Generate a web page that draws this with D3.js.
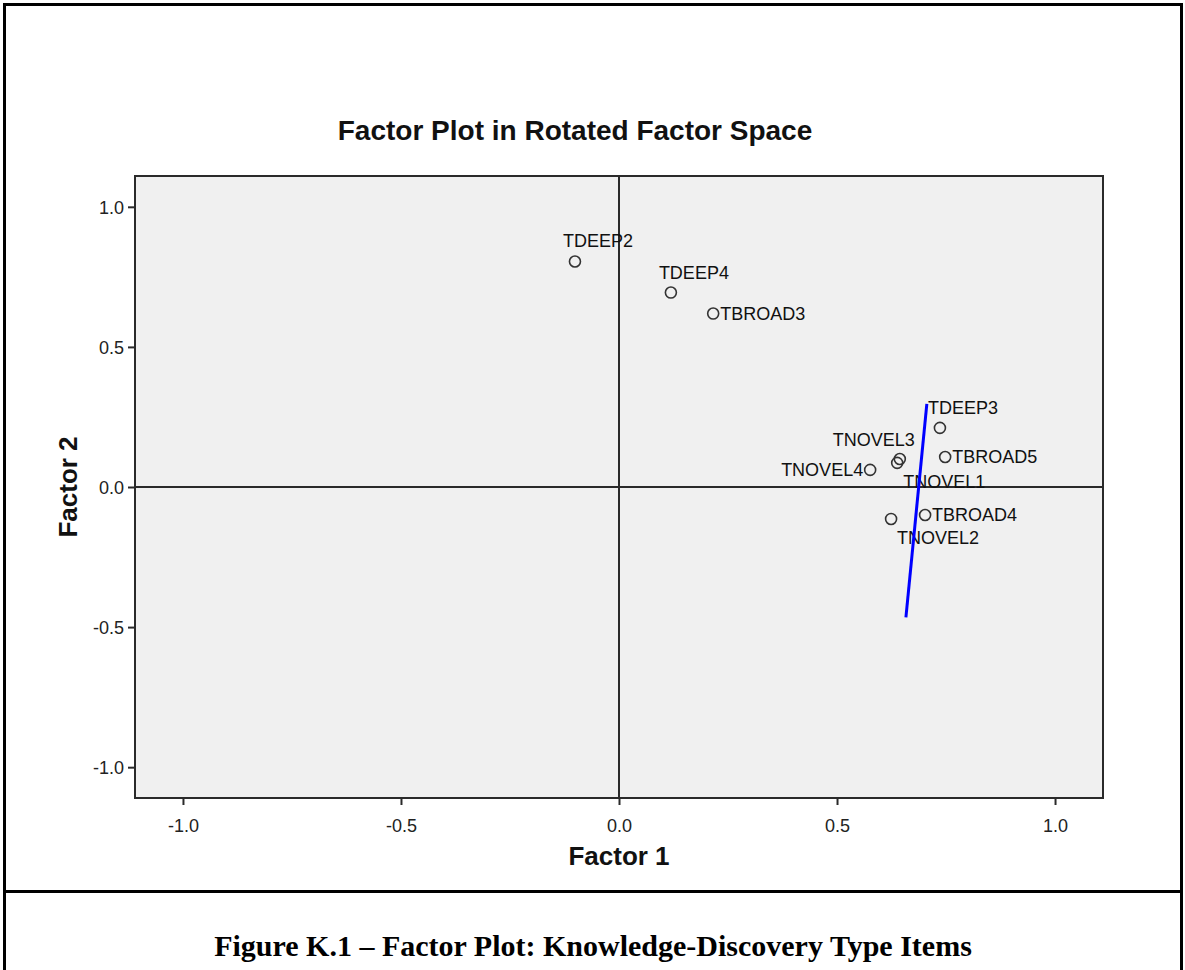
<!DOCTYPE html>
<html lang="en">
<head>
  <meta charset="UTF-8">
  <title>Factor Plot</title>
  <script src="https://d3js.org/d3.v7.min.js" charset="utf-8"></script>
  <style>
    body { margin: 0; background: #fff; }
  </style>
</head>
<body>
</body>
<script>
  // loadings
  var items = ['TDEEP2', 'TDEEP4', 'TBROAD3', 'TDEEP3', 'TBROAD5', 'TNOVEL3', 'TNOVEL1', 'TNOVEL4', 'TNOVEL2', 'TBROAD4']
  var factor1 = [-0.101, 0.119, 0.216, 0.736, 0.748, 0.644, 0.638, 0.576, 0.624, 0.702]
  var factor2 = [0.805, 0.694, 0.619, 0.211, 0.107, 0.100, 0.086, 0.061, -0.114, -0.100]
  // where each label sits against its point
  var labelSide = ['above', 'above', 'right', 'above', 'right', 'aboveLeft', 'below', 'left', 'below', 'right']
  var ticks = [-1.0, -0.5, 0.0, 0.5, 1.0]
  // hand drawn blue stroke
  var blueLine = [[0.706, 0.297], [0.658, -0.465]]

  var W = 1185, H = 970
  var svg = d3.select('body').append('svg').attr('width', W).attr('height', H)

  // frame of the figure
  svg.append('path')
    .attr('d', 'M4.5,' + (H + 5) + 'V4.5H1181.5V' + (H + 5))
    .attr('fill', 'none').attr('stroke', '#000').attr('stroke-width', 3)
  svg.append('line').attr('x1', 3).attr('x2', 1183).attr('y1', 891.5).attr('y2', 891.5)
    .attr('stroke', '#000').attr('stroke-width', 3)

  var x = d3.scaleLinear().domain([-1.11, 1.11]).range([135, 1103])
  var y = d3.scaleLinear().domain([-1.11, 1.11]).range([798, 176])
  var fmt = function(d) { return d.toFixed(1) }

  svg.append('rect')
    .attr('x', x(-1.11)).attr('y', y(1.11))
    .attr('width', x(1.11) - x(-1.11)).attr('height', y(-1.11) - y(1.11))
    .attr('fill', '#f0f0f0')

  // zero lines
  svg.append('line').attr('x1', x(0)).attr('x2', x(0)).attr('y1', y(1.11)).attr('y2', y(-1.11))
    .attr('stroke', '#2a2a2a').attr('stroke-width', 2)
  svg.append('line').attr('x1', x(-1.11)).attr('x2', x(1.11)).attr('y1', y(0)).attr('y2', y(0))
    .attr('stroke', '#2a2a2a').attr('stroke-width', 2)

  svg.append('rect')
    .attr('x', x(-1.11)).attr('y', y(1.11))
    .attr('width', x(1.11) - x(-1.11)).attr('height', y(-1.11) - y(1.11))
    .attr('fill', 'none').attr('stroke', '#2a2a2a').attr('stroke-width', 2)

  var xAxis = svg.append('g').attr('transform', 'translate(0,' + y(-1.11) + ')')
    .call(d3.axisBottom(x).tickValues(ticks).tickFormat(fmt).tickSize(7).tickPadding(14))
  var yAxis = svg.append('g').attr('transform', 'translate(' + x(-1.11) + ',0)')
    .call(d3.axisLeft(y).tickValues(ticks).tickFormat(fmt).tickSize(7).tickPadding(4))
  ;[xAxis, yAxis].forEach(function(g) {
    g.select('.domain').remove()
    g.selectAll('.tick line').attr('stroke', '#2a2a2a').attr('stroke-width', 2)
    g.selectAll('.tick text').attr('fill', '#222')
      .style('font-family', 'Arial, "Liberation Sans", sans-serif').style('font-size', '18px')
  })
  yAxis.selectAll('.tick text').attr('dy', '0.36em')

  // points
  var pts = items.map(function(name, i) {
    return { name: name, f1: factor1[i], f2: factor2[i], side: labelSide[i] }
  })
  svg.append('g').selectAll('circle').data(pts).enter().append('circle')
    .attr('cx', function(d) { return x(d.f1) })
    .attr('cy', function(d) { return y(d.f2) })
    .attr('r', 5.5)
    .attr('fill', 'none').attr('stroke', '#333').attr('stroke-width', 1.6)

  var off = {
    above: [-12, -14, 'start'],
    aboveLeft: [15, -13, 'end'],
    below: [6, 25, 'start'],
    left: [-7, 6, 'end'],
    right: [7, 6, 'start']
  }
  svg.append('g').selectAll('text').data(pts).enter().append('text')
    .attr('x', function(d) { return x(d.f1) + off[d.side][0] })
    .attr('y', function(d) { return y(d.f2) + off[d.side][1] })
    .attr('text-anchor', function(d) { return off[d.side][2] })
    .style('font-family', 'Arial, "Liberation Sans", sans-serif').style('font-size', '18px')
    .attr('fill', '#111')
    .text(function(d) { return d.name })

  svg.append('path')
    .attr('d', d3.line().x(function(d) { return x(d[0]) }).y(function(d) { return y(d[1]) })(blueLine))
    .attr('stroke', '#0000ff').attr('stroke-width', 3).attr('fill', 'none')

  // titles
  svg.append('text').attr('x', 575).attr('y', 140).attr('text-anchor', 'middle')
    .style('font-family', 'Arial, "Liberation Sans", sans-serif').style('font-size', '28px').style('font-weight', 'bold')
    .attr('fill', '#111').text('Factor Plot in Rotated Factor Space')
  svg.append('text').attr('x', 619).attr('y', 865).attr('text-anchor', 'middle')
    .style('font-family', 'Arial, "Liberation Sans", sans-serif').style('font-size', '26px').style('font-weight', 'bold')
    .attr('fill', '#111').text('Factor 1')
  svg.append('text').attr('transform', 'translate(77,487) rotate(-90)').attr('text-anchor', 'middle')
    .style('font-family', 'Arial, "Liberation Sans", sans-serif').style('font-size', '26px').style('font-weight', 'bold')
    .attr('fill', '#111').text('Factor 2')
  svg.append('text').attr('x', 593).attr('y', 956).attr('text-anchor', 'middle')
    .style('font-family', '"Times New Roman", "Liberation Serif", serif').style('font-size', '30px').style('font-weight', 'bold')
    .attr('fill', '#000').text('Figure K.1 \u2013 Factor Plot: Knowledge-Discovery Type Items')
</script>
</html>
